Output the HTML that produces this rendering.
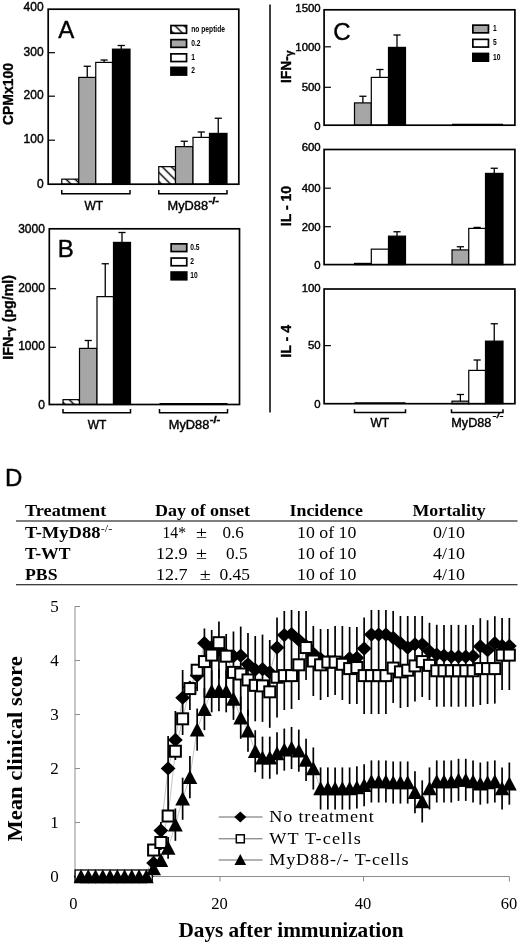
<!DOCTYPE html>
<html lang="en"><head><meta charset="utf-8"><title>Figure</title>
<style>html,body{margin:0;padding:0;background:#fff}svg{display:block}text{fill:#000}</style></head>
<body>
<svg width="520" height="944" viewBox="0 0 520 944">
<defs><pattern id="hatch" patternUnits="userSpaceOnUse" width="6.4" height="6.4" patternTransform="rotate(-45)"><rect width="6.4" height="6.4" fill="#fff"/><line x1="3.2" y1="-1" x2="3.2" y2="7.4" stroke="#000" stroke-width="1.45"/></pattern></defs>
<rect width="520" height="944" fill="#fff"/>
<g id="panelA">
<rect x="61.75" y="179.15" width="17" height="5.05" fill="url(#hatch)" stroke="#000" stroke-width="1.2"/>
<rect x="78.75" y="77.4" width="17" height="106.8" fill="#a6a6a6" stroke="#000" stroke-width="1.2"/>
<line x1="87.25" y1="77.4" x2="87.25" y2="66.25" stroke="#000" stroke-width="1.3" />
<line x1="83.65" y1="66.25" x2="90.85" y2="66.25" stroke="#000" stroke-width="1.3" />
<rect x="95.75" y="62.4" width="16.75" height="121.8" fill="#fff" stroke="#000" stroke-width="1.2"/>
<line x1="104.12" y1="62.4" x2="104.12" y2="60" stroke="#000" stroke-width="1.3" />
<line x1="100.53" y1="60" x2="107.72" y2="60" stroke="#000" stroke-width="1.3" />
<rect x="112.5" y="49.15" width="17.5" height="135.05" fill="#000" stroke="#000" stroke-width="1.2"/>
<line x1="121.25" y1="49.15" x2="121.25" y2="45.5" stroke="#000" stroke-width="1.3" />
<line x1="117.65" y1="45.5" x2="124.85" y2="45.5" stroke="#000" stroke-width="1.3" />
<rect x="158.75" y="166.65" width="16.75" height="17.55" fill="url(#hatch)" stroke="#000" stroke-width="1.2"/>
<rect x="175.5" y="146.65" width="17.5" height="37.55" fill="#a6a6a6" stroke="#000" stroke-width="1.2"/>
<line x1="184.25" y1="146.65" x2="184.25" y2="141.25" stroke="#000" stroke-width="1.3" />
<line x1="180.65" y1="141.25" x2="187.85" y2="141.25" stroke="#000" stroke-width="1.3" />
<rect x="193" y="137.4" width="16.5" height="46.8" fill="#fff" stroke="#000" stroke-width="1.2"/>
<line x1="201.25" y1="137.4" x2="201.25" y2="132" stroke="#000" stroke-width="1.3" />
<line x1="197.65" y1="132" x2="204.85" y2="132" stroke="#000" stroke-width="1.3" />
<rect x="209.5" y="133.4" width="17.5" height="50.8" fill="#000" stroke="#000" stroke-width="1.2"/>
<line x1="218.25" y1="133.4" x2="218.25" y2="118.25" stroke="#000" stroke-width="1.3" />
<line x1="214.65" y1="118.25" x2="221.85" y2="118.25" stroke="#000" stroke-width="1.3" />
<rect x="48.2" y="9.2" width="190.6" height="175" fill="none" stroke="#000" stroke-width="1.7"/>
<text x="43.6" y="11.2" font-family='"Liberation Sans", Arial, Helvetica, sans-serif' font-size="12" font-weight="normal" text-anchor="end"  stroke="#000" stroke-width="0.4">400</text>
<line x1="48.2" y1="52.7" x2="55" y2="52.7" stroke="#000" stroke-width="1.2" />
<text x="43.6" y="55.9" font-family='"Liberation Sans", Arial, Helvetica, sans-serif' font-size="12" font-weight="normal" text-anchor="end"  stroke="#000" stroke-width="0.4">300</text>
<line x1="48.2" y1="96.2" x2="55" y2="96.2" stroke="#000" stroke-width="1.2" />
<text x="43.6" y="99.3" font-family='"Liberation Sans", Arial, Helvetica, sans-serif' font-size="12" font-weight="normal" text-anchor="end"  stroke="#000" stroke-width="0.4">200</text>
<line x1="48.2" y1="140.2" x2="55" y2="140.2" stroke="#000" stroke-width="1.2" />
<text x="43.6" y="143.1" font-family='"Liberation Sans", Arial, Helvetica, sans-serif' font-size="12" font-weight="normal" text-anchor="end"  stroke="#000" stroke-width="0.4">100</text>
<text x="43.6" y="187.5" font-family='"Liberation Sans", Arial, Helvetica, sans-serif' font-size="12" font-weight="normal" text-anchor="end"  stroke="#000" stroke-width="0.4">0</text>
<polyline points="61.75,189.95 61.75,193.75 130,193.75 130,189.95" fill="none" stroke="#000" stroke-width="1.5"/>
<polyline points="158.75,189.95 158.75,193.75 227,193.75 227,189.95" fill="none" stroke="#000" stroke-width="1.5"/>
<text x="93.75" y="210" font-family='"Liberation Sans", Arial, Helvetica, sans-serif' font-size="12" font-weight="normal" text-anchor="middle"  stroke="#000" stroke-width="0.4">WT</text>
<text x="167.5" y="209.7" font-family='"Liberation Sans", Arial, Helvetica, sans-serif' font-size="12" font-weight="normal" text-anchor="start" textLength="40.5" lengthAdjust="spacingAndGlyphs"  stroke="#000" stroke-width="0.4">MyD88</text>
<text x="208.5" y="203.8" font-family='"Liberation Sans", Arial, Helvetica, sans-serif' font-size="8.5" font-weight="bold" text-anchor="start" textLength="10.5" lengthAdjust="spacingAndGlyphs"  stroke="#000" stroke-width="0.4">-/-</text>
<text x="58.3" y="38.2" font-family='"Liberation Sans", Arial, Helvetica, sans-serif' font-size="24" font-weight="normal" text-anchor="start"  stroke="#000" stroke-width="0.4">A</text>
<text transform="translate(12.8 125) rotate(-90)" font-family='"Liberation Sans", Arial, Helvetica, sans-serif' font-size="14" font-weight="bold" stroke="#000" stroke-width="0.35" textLength="62" lengthAdjust="spacingAndGlyphs">CPMx100</text>
<rect x="170.95" y="25.55" width="15.6" height="7.7" fill="url(#hatch)" stroke="#000" stroke-width="1.7"/>
<text x="0" y="0" font-family='"Liberation Sans", Arial, Helvetica, sans-serif' font-size="9.4" font-weight="bold" text-anchor="start" stroke="none" transform="translate(191.3 31.6) scale(0.71 1)">no peptide</text>
<rect x="170.95" y="39.65" width="15.6" height="7.7" fill="#a6a6a6" stroke="#000" stroke-width="1.7"/>
<text x="0" y="0" font-family='"Liberation Sans", Arial, Helvetica, sans-serif' font-size="9.4" font-weight="bold" text-anchor="start" stroke="none" transform="translate(191.3 45.7) scale(0.71 1)">0.2</text>
<rect x="170.95" y="53.85" width="15.6" height="7.7" fill="#fff" stroke="#000" stroke-width="1.7"/>
<text x="0" y="0" font-family='"Liberation Sans", Arial, Helvetica, sans-serif' font-size="9.4" font-weight="bold" text-anchor="start" stroke="none" transform="translate(191.3 59.9) scale(0.71 1)">1</text>
<rect x="170.95" y="67.35" width="15.6" height="7.7" fill="#000" stroke="#000" stroke-width="1.7"/>
<text x="0" y="0" font-family='"Liberation Sans", Arial, Helvetica, sans-serif' font-size="9.4" font-weight="bold" text-anchor="start" stroke="none" transform="translate(191.3 73.4) scale(0.71 1)">2</text>
</g>
<g id="panelB">
<rect x="63" y="399.65" width="16.5" height="4.85" fill="url(#hatch)" stroke="#000" stroke-width="1.2"/>
<rect x="79.5" y="348.4" width="17.5" height="56.1" fill="#a6a6a6" stroke="#000" stroke-width="1.2"/>
<line x1="88.25" y1="348.4" x2="88.25" y2="340.5" stroke="#000" stroke-width="1.3" />
<line x1="84.65" y1="340.5" x2="91.85" y2="340.5" stroke="#000" stroke-width="1.3" />
<rect x="97" y="296.65" width="16.5" height="107.85" fill="#fff" stroke="#000" stroke-width="1.2"/>
<line x1="105.25" y1="296.65" x2="105.25" y2="263.75" stroke="#000" stroke-width="1.3" />
<line x1="101.65" y1="263.75" x2="108.85" y2="263.75" stroke="#000" stroke-width="1.3" />
<rect x="113.5" y="242.4" width="17" height="162.1" fill="#000" stroke="#000" stroke-width="1.2"/>
<line x1="122" y1="242.4" x2="122" y2="232.5" stroke="#000" stroke-width="1.3" />
<line x1="118.4" y1="232.5" x2="125.6" y2="232.5" stroke="#000" stroke-width="1.3" />
<line x1="159.5" y1="403.8" x2="227.5" y2="403.8" stroke="#000" stroke-width="1.6" />
<rect x="49.3" y="228.8" width="190.2" height="175.7" fill="none" stroke="#000" stroke-width="1.7"/>
<text x="44.9" y="232.9" font-family='"Liberation Sans", Arial, Helvetica, sans-serif' font-size="12" font-weight="normal" text-anchor="end"  stroke="#000" stroke-width="0.4">3000</text>
<line x1="49.3" y1="288.7" x2="56.1" y2="288.7" stroke="#000" stroke-width="1.2" />
<text x="44.9" y="292.2" font-family='"Liberation Sans", Arial, Helvetica, sans-serif' font-size="12" font-weight="normal" text-anchor="end"  stroke="#000" stroke-width="0.4">2000</text>
<line x1="49.3" y1="347.3" x2="56.1" y2="347.3" stroke="#000" stroke-width="1.2" />
<text x="44.9" y="350.3" font-family='"Liberation Sans", Arial, Helvetica, sans-serif' font-size="12" font-weight="normal" text-anchor="end"  stroke="#000" stroke-width="0.4">1000</text>
<text x="44.9" y="408.6" font-family='"Liberation Sans", Arial, Helvetica, sans-serif' font-size="12" font-weight="normal" text-anchor="end"  stroke="#000" stroke-width="0.4">0</text>
<polyline points="63,408.9 63,412.7 130.5,412.7 130.5,408.9" fill="none" stroke="#000" stroke-width="1.5"/>
<polyline points="159.5,408.9 159.5,412.7 227.5,412.7 227.5,408.9" fill="none" stroke="#000" stroke-width="1.5"/>
<text x="97" y="428.8" font-family='"Liberation Sans", Arial, Helvetica, sans-serif' font-size="12" font-weight="normal" text-anchor="middle"  stroke="#000" stroke-width="0.4">WT</text>
<text x="168.75" y="428.8" font-family='"Liberation Sans", Arial, Helvetica, sans-serif' font-size="12" font-weight="normal" text-anchor="start" textLength="40.5" lengthAdjust="spacingAndGlyphs"  stroke="#000" stroke-width="0.4">MyD88</text>
<text x="209.75" y="422.9" font-family='"Liberation Sans", Arial, Helvetica, sans-serif' font-size="8.5" font-weight="bold" text-anchor="start" textLength="10.5" lengthAdjust="spacingAndGlyphs"  stroke="#000" stroke-width="0.4">-/-</text>
<text x="57.8" y="257" font-family='"Liberation Sans", Arial, Helvetica, sans-serif' font-size="24" font-weight="normal" text-anchor="start"  stroke="#000" stroke-width="0.4">B</text>
<text transform="translate(12.5 359.7) rotate(-90)" font-family='"Liberation Sans", Arial, Helvetica, sans-serif' font-size="14" font-weight="bold" stroke="#000" stroke-width="0.35" textLength="84.7" lengthAdjust="spacingAndGlyphs">IFN-<tspan font-size="10.5" dy="1.5">γ</tspan><tspan dy="-1.5"> (pg/ml)</tspan></text>
<rect x="171.15" y="243.85" width="15.6" height="7.7" fill="#a6a6a6" stroke="#000" stroke-width="1.7"/>
<text x="0" y="0" font-family='"Liberation Sans", Arial, Helvetica, sans-serif' font-size="9.4" font-weight="bold" text-anchor="start" stroke="none" transform="translate(190.3 249.9) scale(0.71 1)">0.5</text>
<rect x="171.15" y="258.05" width="15.6" height="7.7" fill="#fff" stroke="#000" stroke-width="1.7"/>
<text x="0" y="0" font-family='"Liberation Sans", Arial, Helvetica, sans-serif' font-size="9.4" font-weight="bold" text-anchor="start" stroke="none" transform="translate(190.3 264.1) scale(0.71 1)">2</text>
<rect x="171.15" y="272.05" width="15.6" height="7.7" fill="#000" stroke="#000" stroke-width="1.7"/>
<text x="0" y="0" font-family='"Liberation Sans", Arial, Helvetica, sans-serif' font-size="9.4" font-weight="bold" text-anchor="start" stroke="none" transform="translate(190.3 278.1) scale(0.71 1)">10</text>
</g>
<g id="panelC">
<line x1="270" y1="4.5" x2="270" y2="412.5" stroke="#000" stroke-width="1.5" />
<rect x="354.5" y="102.9" width="16.8" height="22.3" fill="#a6a6a6" stroke="#000" stroke-width="1.2"/>
<line x1="362.9" y1="102.9" x2="362.9" y2="96.25" stroke="#000" stroke-width="1.3" />
<line x1="359.3" y1="96.25" x2="366.5" y2="96.25" stroke="#000" stroke-width="1.3" />
<rect x="371.3" y="77.4" width="17.2" height="47.8" fill="#fff" stroke="#000" stroke-width="1.2"/>
<line x1="379.9" y1="77.4" x2="379.9" y2="69.5" stroke="#000" stroke-width="1.3" />
<line x1="376.3" y1="69.5" x2="383.5" y2="69.5" stroke="#000" stroke-width="1.3" />
<rect x="388.5" y="47.4" width="17" height="77.8" fill="#000" stroke="#000" stroke-width="1.2"/>
<line x1="397" y1="47.4" x2="397" y2="35" stroke="#000" stroke-width="1.3" />
<line x1="393.4" y1="35" x2="400.6" y2="35" stroke="#000" stroke-width="1.3" />
<line x1="452" y1="124.6" x2="503" y2="124.6" stroke="#000" stroke-width="1.5" />
<rect x="324.1" y="9.8" width="190.8" height="115.4" fill="none" stroke="#000" stroke-width="1.7"/>
<text x="320.7" y="12" font-family='"Liberation Sans", Arial, Helvetica, sans-serif' font-size="11.4" font-weight="normal" text-anchor="end"  stroke="#000" stroke-width="0.4">1500</text>
<line x1="324.1" y1="46.8" x2="330.9" y2="46.8" stroke="#000" stroke-width="1.2" />
<text x="320.7" y="50.6" font-family='"Liberation Sans", Arial, Helvetica, sans-serif' font-size="11.4" font-weight="normal" text-anchor="end"  stroke="#000" stroke-width="0.4">1000</text>
<line x1="324.1" y1="87.3" x2="330.9" y2="87.3" stroke="#000" stroke-width="1.2" />
<text x="320.7" y="91.4" font-family='"Liberation Sans", Arial, Helvetica, sans-serif' font-size="11.4" font-weight="normal" text-anchor="end"  stroke="#000" stroke-width="0.4">500</text>
<text x="320.7" y="129.7" font-family='"Liberation Sans", Arial, Helvetica, sans-serif' font-size="11.4" font-weight="normal" text-anchor="end"  stroke="#000" stroke-width="0.4">0</text>
<text x="333.3" y="39.8" font-family='"Liberation Sans", Arial, Helvetica, sans-serif' font-size="24" font-weight="normal" text-anchor="start"  stroke="#000" stroke-width="0.4">C</text>
<text transform="translate(291.2 83.1) rotate(-90)" font-family='"Liberation Sans", Arial, Helvetica, sans-serif' font-size="14" font-weight="bold" stroke="#000" stroke-width="0.35" textLength="32.7" lengthAdjust="spacingAndGlyphs">IFN-<tspan font-size="10.5" dy="1.5">γ</tspan></text>
<rect x="472.85" y="25.15" width="15.6" height="7.7" fill="#a6a6a6" stroke="#000" stroke-width="1.7"/>
<text x="0" y="0" font-family='"Liberation Sans", Arial, Helvetica, sans-serif' font-size="9.4" font-weight="bold" text-anchor="start" stroke="none" transform="translate(493 31.2) scale(0.71 1)">1</text>
<rect x="472.85" y="39.35" width="15.6" height="7.7" fill="#fff" stroke="#000" stroke-width="1.7"/>
<text x="0" y="0" font-family='"Liberation Sans", Arial, Helvetica, sans-serif' font-size="9.4" font-weight="bold" text-anchor="start" stroke="none" transform="translate(493 45.4) scale(0.71 1)">5</text>
<rect x="472.85" y="53.45" width="15.6" height="7.7" fill="#000" stroke="#000" stroke-width="1.7"/>
<text x="0" y="0" font-family='"Liberation Sans", Arial, Helvetica, sans-serif' font-size="9.4" font-weight="bold" text-anchor="start" stroke="none" transform="translate(493 59.5) scale(0.71 1)">10</text>
<rect x="354.5" y="263.4" width="16.8" height="1.2" fill="#a6a6a6" stroke="#000" stroke-width="1.2"/>
<rect x="371.3" y="249.15" width="17.2" height="15.45" fill="#fff" stroke="#000" stroke-width="1.2"/>
<rect x="388.5" y="236.15" width="17" height="28.45" fill="#000" stroke="#000" stroke-width="1.2"/>
<line x1="397" y1="236.15" x2="397" y2="231.75" stroke="#000" stroke-width="1.3" />
<line x1="393.4" y1="231.75" x2="400.6" y2="231.75" stroke="#000" stroke-width="1.3" />
<rect x="452" y="249.9" width="16.75" height="14.7" fill="#a6a6a6" stroke="#000" stroke-width="1.2"/>
<line x1="460.38" y1="249.9" x2="460.38" y2="246.75" stroke="#000" stroke-width="1.3" />
<line x1="456.77" y1="246.75" x2="463.98" y2="246.75" stroke="#000" stroke-width="1.3" />
<rect x="468.75" y="228.4" width="16.75" height="36.2" fill="#fff" stroke="#000" stroke-width="1.2"/>
<line x1="477.12" y1="228.4" x2="477.12" y2="227.4" stroke="#000" stroke-width="1.3" />
<line x1="473.52" y1="227.4" x2="480.73" y2="227.4" stroke="#000" stroke-width="1.3" />
<rect x="485.5" y="173.4" width="17.5" height="91.2" fill="#000" stroke="#000" stroke-width="1.2"/>
<line x1="494.25" y1="173.4" x2="494.25" y2="168.25" stroke="#000" stroke-width="1.3" />
<line x1="490.65" y1="168.25" x2="497.85" y2="168.25" stroke="#000" stroke-width="1.3" />
<rect x="324.1" y="149.5" width="190.8" height="115.1" fill="none" stroke="#000" stroke-width="1.7"/>
<text x="320.7" y="151.2" font-family='"Liberation Sans", Arial, Helvetica, sans-serif' font-size="11.4" font-weight="normal" text-anchor="end"  stroke="#000" stroke-width="0.4">600</text>
<line x1="324.1" y1="188.2" x2="330.9" y2="188.2" stroke="#000" stroke-width="1.2" />
<text x="320.7" y="191.9" font-family='"Liberation Sans", Arial, Helvetica, sans-serif' font-size="11.4" font-weight="normal" text-anchor="end"  stroke="#000" stroke-width="0.4">400</text>
<line x1="324.1" y1="226.7" x2="330.9" y2="226.7" stroke="#000" stroke-width="1.2" />
<text x="320.7" y="230.8" font-family='"Liberation Sans", Arial, Helvetica, sans-serif' font-size="11.4" font-weight="normal" text-anchor="end"  stroke="#000" stroke-width="0.4">200</text>
<text x="320.7" y="268.7" font-family='"Liberation Sans", Arial, Helvetica, sans-serif' font-size="11.4" font-weight="normal" text-anchor="end"  stroke="#000" stroke-width="0.4">0</text>
<text transform="translate(291.2 226.2) rotate(-90)" font-family='"Liberation Sans", Arial, Helvetica, sans-serif' font-size="14" font-weight="bold" stroke="#000" stroke-width="0.35" textLength="40.4" lengthAdjust="spacingAndGlyphs">IL - 10</text>
<line x1="354.5" y1="403.1" x2="405.5" y2="403.1" stroke="#000" stroke-width="1.5" />
<rect x="452" y="401.15" width="16.75" height="2.55" fill="#a6a6a6" stroke="#000" stroke-width="1.2"/>
<line x1="460.38" y1="401.15" x2="460.38" y2="394.5" stroke="#000" stroke-width="1.3" />
<line x1="456.77" y1="394.5" x2="463.98" y2="394.5" stroke="#000" stroke-width="1.3" />
<rect x="468.75" y="370.4" width="16.75" height="33.3" fill="#fff" stroke="#000" stroke-width="1.2"/>
<line x1="477.12" y1="370.4" x2="477.12" y2="360" stroke="#000" stroke-width="1.3" />
<line x1="473.52" y1="360" x2="480.73" y2="360" stroke="#000" stroke-width="1.3" />
<rect x="485.5" y="341.15" width="17.5" height="62.55" fill="#000" stroke="#000" stroke-width="1.2"/>
<line x1="494.25" y1="341.15" x2="494.25" y2="323.75" stroke="#000" stroke-width="1.3" />
<line x1="490.65" y1="323.75" x2="497.85" y2="323.75" stroke="#000" stroke-width="1.3" />
<rect x="324.1" y="289" width="190.8" height="114.7" fill="none" stroke="#000" stroke-width="1.7"/>
<text x="320.7" y="291.8" font-family='"Liberation Sans", Arial, Helvetica, sans-serif' font-size="11.4" font-weight="normal" text-anchor="end"  stroke="#000" stroke-width="0.4">100</text>
<line x1="324.1" y1="345.6" x2="330.9" y2="345.6" stroke="#000" stroke-width="1.2" />
<text x="320.7" y="349.4" font-family='"Liberation Sans", Arial, Helvetica, sans-serif' font-size="11.4" font-weight="normal" text-anchor="end"  stroke="#000" stroke-width="0.4">50</text>
<text x="320.7" y="407.9" font-family='"Liberation Sans", Arial, Helvetica, sans-serif' font-size="11.4" font-weight="normal" text-anchor="end"  stroke="#000" stroke-width="0.4">0</text>
<text transform="translate(291.3 357.7) rotate(-90)" font-family='"Liberation Sans", Arial, Helvetica, sans-serif' font-size="14" font-weight="bold" stroke="#000" stroke-width="0.35" textLength="32.7" lengthAdjust="spacingAndGlyphs">IL - 4</text>
<polyline points="354.5,409.2 354.5,412.4 405.5,412.4 405.5,409.2" fill="none" stroke="#000" stroke-width="1.5"/>
<polyline points="451.5,409.2 451.5,412.4 503,412.4 503,409.2" fill="none" stroke="#000" stroke-width="1.5"/>
<text x="370.5" y="427" font-family='"Liberation Sans", Arial, Helvetica, sans-serif' font-size="12" font-weight="normal" text-anchor="start"  stroke="#000" stroke-width="0.4">WT</text>
<text x="451.3" y="427" font-family='"Liberation Sans", Arial, Helvetica, sans-serif' font-size="12" font-weight="normal" text-anchor="start" textLength="40" lengthAdjust="spacingAndGlyphs"  stroke="#000" stroke-width="0.4">MyD88</text>
<text x="492.5" y="417.5" font-family='"Liberation Sans", Arial, Helvetica, sans-serif' font-size="8" font-weight="normal" text-anchor="start" textLength="11" lengthAdjust="spacingAndGlyphs"  stroke="#000" stroke-width="0.4">-/-</text>
</g>
<g id="panelD">
<text x="5" y="486.2" font-family='"Liberation Sans", Arial, Helvetica, sans-serif' font-size="24" font-weight="normal" text-anchor="start"  stroke="#000" stroke-width="0.4">D</text>
<text x="25" y="516.3" font-family='"Liberation Serif", "Times New Roman", Times, serif' font-size="16.5" font-weight="bold" text-anchor="start" textLength="81.3" lengthAdjust="spacingAndGlyphs" >Treatment</text>
<text x="155" y="516.3" font-family='"Liberation Serif", "Times New Roman", Times, serif' font-size="16.5" font-weight="bold" text-anchor="start" textLength="95" lengthAdjust="spacingAndGlyphs" >Day of onset</text>
<text x="289.5" y="516.3" font-family='"Liberation Serif", "Times New Roman", Times, serif' font-size="16.5" font-weight="bold" text-anchor="start" textLength="73.5" lengthAdjust="spacingAndGlyphs" >Incidence</text>
<text x="412.5" y="516.3" font-family='"Liberation Serif", "Times New Roman", Times, serif' font-size="16.5" font-weight="bold" text-anchor="start" textLength="73.3" lengthAdjust="spacingAndGlyphs" >Mortality</text>
<line x1="16" y1="521" x2="517.5" y2="521" stroke="#000" stroke-width="1.1" />
<line x1="16" y1="584.7" x2="517.5" y2="584.7" stroke="#000" stroke-width="1.1" />
<text x="25" y="537.8" font-family='"Liberation Serif", "Times New Roman", Times, serif' font-size="16.5" font-weight="bold" text-anchor="start" textLength="75.5" lengthAdjust="spacingAndGlyphs" >T-MyD88</text>
<text x="100.8" y="531.5" font-family='"Liberation Serif", "Times New Roman", Times, serif' font-size="10" font-weight="normal" text-anchor="start" textLength="11.5" lengthAdjust="spacingAndGlyphs" >-/-</text>
<text x="25" y="558.8" font-family='"Liberation Serif", "Times New Roman", Times, serif' font-size="16.5" font-weight="bold" text-anchor="start" textLength="45.5" lengthAdjust="spacingAndGlyphs" >T-WT</text>
<text x="25" y="579.8" font-family='"Liberation Serif", "Times New Roman", Times, serif' font-size="16.5" font-weight="bold" text-anchor="start" textLength="32.5" lengthAdjust="spacingAndGlyphs" >PBS</text>
<text x="162.5" y="537.8" font-family='"Liberation Serif", "Times New Roman", Times, serif' font-size="16.5" font-weight="normal" text-anchor="start" textLength="23.5" lengthAdjust="spacingAndGlyphs" >14*</text>
<text x="196" y="537.8" font-family='"Liberation Serif", "Times New Roman", Times, serif' font-size="16.5" font-weight="normal" text-anchor="start" textLength="11" lengthAdjust="spacingAndGlyphs" >±</text>
<text x="222.5" y="537.8" font-family='"Liberation Serif", "Times New Roman", Times, serif' font-size="16.5" font-weight="normal" text-anchor="start" textLength="21.3" lengthAdjust="spacingAndGlyphs" >0.6</text>
<text x="156" y="558.8" font-family='"Liberation Serif", "Times New Roman", Times, serif' font-size="16.5" font-weight="normal" text-anchor="start" textLength="31.5" lengthAdjust="spacingAndGlyphs" >12.9</text>
<text x="196" y="558.8" font-family='"Liberation Serif", "Times New Roman", Times, serif' font-size="16.5" font-weight="normal" text-anchor="start" textLength="11" lengthAdjust="spacingAndGlyphs" >±</text>
<text x="226" y="558.8" font-family='"Liberation Serif", "Times New Roman", Times, serif' font-size="16.5" font-weight="normal" text-anchor="start" textLength="21.5" lengthAdjust="spacingAndGlyphs" >0.5</text>
<text x="156" y="579.8" font-family='"Liberation Serif", "Times New Roman", Times, serif' font-size="16.5" font-weight="normal" text-anchor="start" textLength="31.5" lengthAdjust="spacingAndGlyphs" >12.7</text>
<text x="199.7" y="579.8" font-family='"Liberation Serif", "Times New Roman", Times, serif' font-size="16.5" font-weight="normal" text-anchor="start" textLength="11" lengthAdjust="spacingAndGlyphs" >±</text>
<text x="219.5" y="579.8" font-family='"Liberation Serif", "Times New Roman", Times, serif' font-size="16.5" font-weight="normal" text-anchor="start" textLength="30.5" lengthAdjust="spacingAndGlyphs" >0.45</text>
<text x="297" y="537.8" font-family='"Liberation Serif", "Times New Roman", Times, serif' font-size="16.5" font-weight="normal" text-anchor="start" textLength="59.3" lengthAdjust="spacingAndGlyphs" >10 of 10</text>
<text x="297" y="558.8" font-family='"Liberation Serif", "Times New Roman", Times, serif' font-size="16.5" font-weight="normal" text-anchor="start" textLength="59.3" lengthAdjust="spacingAndGlyphs" >10 of 10</text>
<text x="297" y="579.8" font-family='"Liberation Serif", "Times New Roman", Times, serif' font-size="16.5" font-weight="normal" text-anchor="start" textLength="59.3" lengthAdjust="spacingAndGlyphs" >10 of 10</text>
<text x="433" y="537.8" font-family='"Liberation Serif", "Times New Roman", Times, serif' font-size="16.5" font-weight="normal" text-anchor="start" textLength="32" lengthAdjust="spacingAndGlyphs" >0/10</text>
<text x="433" y="558.8" font-family='"Liberation Serif", "Times New Roman", Times, serif' font-size="16.5" font-weight="normal" text-anchor="start" textLength="32" lengthAdjust="spacingAndGlyphs" >4/10</text>
<text x="433" y="579.8" font-family='"Liberation Serif", "Times New Roman", Times, serif' font-size="16.5" font-weight="normal" text-anchor="start" textLength="32" lengthAdjust="spacingAndGlyphs" >4/10</text>
<line x1="75" y1="606.5" x2="75" y2="876.5" stroke="#8c8c8c" stroke-width="1" />
<line x1="75" y1="876.5" x2="509.4" y2="876.5" stroke="#8c8c8c" stroke-width="1" />
<line x1="75" y1="876.5" x2="80" y2="876.5" stroke="#8c8c8c" stroke-width="1" />
<text x="58.8" y="881.9" font-family='"Liberation Serif", "Times New Roman", Times, serif' font-size="17" font-weight="normal" text-anchor="end" >0</text>
<line x1="75" y1="822.5" x2="80" y2="822.5" stroke="#8c8c8c" stroke-width="1" />
<text x="58.8" y="827.9" font-family='"Liberation Serif", "Times New Roman", Times, serif' font-size="17" font-weight="normal" text-anchor="end" >1</text>
<line x1="75" y1="768.5" x2="80" y2="768.5" stroke="#8c8c8c" stroke-width="1" />
<text x="58.8" y="773.9" font-family='"Liberation Serif", "Times New Roman", Times, serif' font-size="17" font-weight="normal" text-anchor="end" >2</text>
<line x1="75" y1="714.5" x2="80" y2="714.5" stroke="#8c8c8c" stroke-width="1" />
<text x="58.8" y="719.9" font-family='"Liberation Serif", "Times New Roman", Times, serif' font-size="17" font-weight="normal" text-anchor="end" >3</text>
<line x1="75" y1="660.5" x2="80" y2="660.5" stroke="#8c8c8c" stroke-width="1" />
<text x="58.8" y="665.9" font-family='"Liberation Serif", "Times New Roman", Times, serif' font-size="17" font-weight="normal" text-anchor="end" >4</text>
<line x1="75" y1="606.5" x2="80" y2="606.5" stroke="#8c8c8c" stroke-width="1" />
<text x="58.8" y="611.9" font-family='"Liberation Serif", "Times New Roman", Times, serif' font-size="17" font-weight="normal" text-anchor="end" >5</text>
<line x1="75" y1="876.5" x2="75" y2="881.5" stroke="#8c8c8c" stroke-width="1" />
<text x="73.3" y="908.7" font-family='"Liberation Serif", "Times New Roman", Times, serif' font-size="16.5" font-weight="normal" text-anchor="middle" >0</text>
<line x1="220" y1="876.5" x2="220" y2="881.5" stroke="#8c8c8c" stroke-width="1" />
<text x="219.5" y="908.7" font-family='"Liberation Serif", "Times New Roman", Times, serif' font-size="16.5" font-weight="normal" text-anchor="middle" >20</text>
<line x1="363.5" y1="876.5" x2="363.5" y2="881.5" stroke="#8c8c8c" stroke-width="1" />
<text x="363" y="908.7" font-family='"Liberation Serif", "Times New Roman", Times, serif' font-size="16.5" font-weight="normal" text-anchor="middle" >40</text>
<line x1="509.4" y1="876.5" x2="509.4" y2="881.5" stroke="#8c8c8c" stroke-width="1" />
<text x="508.9" y="908.7" font-family='"Liberation Serif", "Times New Roman", Times, serif' font-size="16.5" font-weight="normal" text-anchor="middle" >60</text>
<text x="178.4" y="937" font-family='"Liberation Serif", "Times New Roman", Times, serif' font-size="21.5" font-weight="bold" text-anchor="start" textLength="225.3" lengthAdjust="spacingAndGlyphs" >Days after immunization</text>
<text transform="translate(22 841.6) rotate(-90)" font-family='"Liberation Serif", "Times New Roman", Times, serif' font-size="22" font-weight="bold" stroke="#000" stroke-width="0" textLength="185.3" lengthAdjust="spacingAndGlyphs">Mean clinical score</text>
<polyline points="81,876.5 88.26,876.5 95.52,876.5 102.78,876.5 110.04,876.5 117.3,876.5 124.56,876.5 131.82,876.5 139.08,876.5 146.34,876.5 153.6,863 160.86,830.6 168.12,768.5 175.38,739.88 182.64,697.76 189.9,687.5 197.16,675.62 204.42,643.22 211.68,647 218.94,649.7 226.2,655.1 233.46,656.18 240.72,655.64 247.98,664.28 255.24,669.68 262.5,669.14 269.76,672.38 277.02,647.54 284.28,635.12 291.54,634.04 298.8,639.98 306.06,645.92 313.32,653.48 320.58,658.88 327.84,661.58 335.1,661.58 342.36,662.66 349.62,658.34 356.88,657.8 364.14,648.62 371.4,634.58 378.66,634.58 385.92,634.58 393.18,637.82 400.44,643.22 407.7,647.54 414.96,644.3 422.22,644.3 429.48,651.32 436.74,654.56 444,655.64 451.26,656.72 458.52,656.72 465.78,656.72 473.04,656.18 480.3,646.46 487.56,650.24 494.82,643.22 502.08,645.92 509.34,645.92" fill="none" stroke="#9a9a9a" stroke-width="0.6"/>
<polyline points="81,876.5 88.26,876.5 95.52,876.5 102.78,876.5 110.04,876.5 117.3,876.5 124.56,876.5 131.82,876.5 139.08,876.5 146.34,876.5 153.6,850.04 160.86,842.48 168.12,816.02 175.38,751.22 182.64,718.82 189.9,688.58 197.16,670.22 204.42,661.58 211.68,655.1 218.94,642.68 226.2,656.18 233.46,672.38 240.72,674 247.98,679.94 255.24,685.34 262.5,685.88 269.76,691.82 277.02,677.24 284.28,675.62 291.54,675.62 298.8,664.82 306.06,647.54 313.32,661.04 320.58,664.82 327.84,662.12 335.1,662.12 342.36,664.28 349.62,668.6 356.88,667.52 364.14,675.62 371.4,675.62 378.66,675.62 385.92,675.62 393.18,668.06 400.44,671.84 407.7,670.22 414.96,665.9 422.22,661.58 429.48,665.36 436.74,670.76 444,670.76 451.26,670.76 458.52,670.76 465.78,670.76 473.04,670.76 480.3,668.6 487.56,668.6 494.82,668.6 502.08,655.1 509.34,655.1" fill="none" stroke="#9a9a9a" stroke-width="0.6"/>
<polyline points="81,876.5 88.26,876.5 95.52,876.5 102.78,876.5 110.04,876.5 117.3,876.5 124.56,876.5 131.82,876.5 139.08,876.5 146.34,876.5 153.6,868.4 160.86,860.3 168.12,847.88 175.38,824.66 182.64,798.74 189.9,777.14 197.16,729.62 204.42,709.1 211.68,691.28 218.94,690.2 226.2,691.28 233.46,698.84 240.72,717.74 247.98,730.7 255.24,751.22 262.5,757.7 269.76,757.7 277.02,753.38 284.28,749.6 291.54,747.98 298.8,750.68 306.06,759.86 313.32,768.5 320.58,788.48 327.84,788.48 335.1,788.48 342.36,788.48 349.62,788.48 356.88,787.4 364.14,785.24 371.4,781.46 378.66,781.46 385.92,781.46 393.18,782.54 400.44,782.54 407.7,782.54 414.96,792.26 422.22,801.44 429.48,788.48 436.74,781.46 444,781.46 451.26,781.46 458.52,779.84 465.78,779.84 473.04,781.46 480.3,783.62 487.56,782.54 494.82,781.46 502.08,788.48 509.34,783.62" fill="none" stroke="#9a9a9a" stroke-width="0.6"/>
<line x1="153.6" y1="845" x2="153.6" y2="870" stroke="#000" stroke-width="1.7" />
<line x1="153.6" y1="865.7" x2="153.6" y2="871.1" stroke="#000" stroke-width="1.7" />
<line x1="160.86" y1="822" x2="160.86" y2="850" stroke="#000" stroke-width="1.7" />
<line x1="160.86" y1="854.9" x2="160.86" y2="865.7" stroke="#000" stroke-width="1.7" />
<line x1="168.12" y1="736" x2="168.12" y2="822" stroke="#000" stroke-width="1.7" />
<line x1="168.12" y1="837.08" x2="168.12" y2="858.68" stroke="#000" stroke-width="1.7" />
<line x1="175.38" y1="711" x2="175.38" y2="760" stroke="#000" stroke-width="1.7" />
<line x1="175.38" y1="808.46" x2="175.38" y2="840.86" stroke="#000" stroke-width="1.7" />
<line x1="182.64" y1="670" x2="182.64" y2="735" stroke="#000" stroke-width="1.7" />
<line x1="182.64" y1="777.68" x2="182.64" y2="819.8" stroke="#000" stroke-width="1.7" />
<line x1="189.9" y1="684" x2="189.9" y2="710" stroke="#000" stroke-width="1.7" />
<line x1="189.9" y1="756.08" x2="189.9" y2="798.2" stroke="#000" stroke-width="1.7" />
<line x1="197.16" y1="666" x2="197.16" y2="691" stroke="#000" stroke-width="1.7" />
<line x1="197.16" y1="708.56" x2="197.16" y2="750.68" stroke="#000" stroke-width="1.7" />
<line x1="204.42" y1="628.5" x2="204.42" y2="697.58" stroke="#000" stroke-width="1.7" />
<line x1="204.42" y1="688.04" x2="204.42" y2="730.16" stroke="#000" stroke-width="1.7" />
<line x1="211.68" y1="630" x2="211.68" y2="691.1" stroke="#000" stroke-width="1.7" />
<line x1="211.68" y1="670.22" x2="211.68" y2="712.34" stroke="#000" stroke-width="1.7" />
<line x1="218.94" y1="621.5" x2="218.94" y2="678.68" stroke="#000" stroke-width="1.7" />
<line x1="218.94" y1="669.14" x2="218.94" y2="711.26" stroke="#000" stroke-width="1.7" />
<line x1="226.2" y1="634" x2="226.2" y2="692.18" stroke="#000" stroke-width="1.7" />
<line x1="226.2" y1="670.22" x2="226.2" y2="712.34" stroke="#000" stroke-width="1.7" />
<line x1="233.46" y1="631.5" x2="233.46" y2="708.38" stroke="#000" stroke-width="1.7" />
<line x1="233.46" y1="677.78" x2="233.46" y2="719.9" stroke="#000" stroke-width="1.7" />
<line x1="240.72" y1="626.6" x2="240.72" y2="710" stroke="#000" stroke-width="1.7" />
<line x1="240.72" y1="696.68" x2="240.72" y2="738.8" stroke="#000" stroke-width="1.7" />
<line x1="247.98" y1="633" x2="247.98" y2="715.94" stroke="#000" stroke-width="1.7" />
<line x1="247.98" y1="709.64" x2="247.98" y2="751.76" stroke="#000" stroke-width="1.7" />
<line x1="255.24" y1="636" x2="255.24" y2="721.34" stroke="#000" stroke-width="1.7" />
<line x1="255.24" y1="730.16" x2="255.24" y2="772.28" stroke="#000" stroke-width="1.7" />
<line x1="262.5" y1="634.6" x2="262.5" y2="721.88" stroke="#000" stroke-width="1.7" />
<line x1="262.5" y1="736.64" x2="262.5" y2="778.76" stroke="#000" stroke-width="1.7" />
<line x1="269.76" y1="640" x2="269.76" y2="727.82" stroke="#000" stroke-width="1.7" />
<line x1="269.76" y1="736.64" x2="269.76" y2="778.76" stroke="#000" stroke-width="1.7" />
<line x1="277.02" y1="617.5" x2="277.02" y2="717.5" stroke="#000" stroke-width="1.7" />
<line x1="277.02" y1="732.32" x2="277.02" y2="774.44" stroke="#000" stroke-width="1.7" />
<line x1="284.28" y1="611" x2="284.28" y2="710" stroke="#000" stroke-width="1.7" />
<line x1="284.28" y1="728.54" x2="284.28" y2="770.66" stroke="#000" stroke-width="1.7" />
<line x1="291.54" y1="610" x2="291.54" y2="709" stroke="#000" stroke-width="1.7" />
<line x1="291.54" y1="726.92" x2="291.54" y2="769.04" stroke="#000" stroke-width="1.7" />
<line x1="298.8" y1="611" x2="298.8" y2="700" stroke="#000" stroke-width="1.7" />
<line x1="298.8" y1="729.62" x2="298.8" y2="771.74" stroke="#000" stroke-width="1.7" />
<line x1="306.06" y1="611" x2="306.06" y2="680" stroke="#000" stroke-width="1.7" />
<line x1="306.06" y1="738.8" x2="306.06" y2="780.92" stroke="#000" stroke-width="1.7" />
<line x1="313.32" y1="626" x2="313.32" y2="696" stroke="#000" stroke-width="1.7" />
<line x1="313.32" y1="747.44" x2="313.32" y2="789.56" stroke="#000" stroke-width="1.7" />
<line x1="320.58" y1="629" x2="320.58" y2="700" stroke="#000" stroke-width="1.7" />
<line x1="320.58" y1="767.42" x2="320.58" y2="809.54" stroke="#000" stroke-width="1.7" />
<line x1="327.84" y1="629" x2="327.84" y2="697" stroke="#000" stroke-width="1.7" />
<line x1="327.84" y1="767.42" x2="327.84" y2="809.54" stroke="#000" stroke-width="1.7" />
<line x1="335.1" y1="626" x2="335.1" y2="695" stroke="#000" stroke-width="1.7" />
<line x1="335.1" y1="767.42" x2="335.1" y2="809.54" stroke="#000" stroke-width="1.7" />
<line x1="342.36" y1="626" x2="342.36" y2="700" stroke="#000" stroke-width="1.7" />
<line x1="342.36" y1="767.42" x2="342.36" y2="809.54" stroke="#000" stroke-width="1.7" />
<line x1="349.62" y1="627" x2="349.62" y2="704" stroke="#000" stroke-width="1.7" />
<line x1="349.62" y1="767.42" x2="349.62" y2="809.54" stroke="#000" stroke-width="1.7" />
<line x1="356.88" y1="627" x2="356.88" y2="704" stroke="#000" stroke-width="1.7" />
<line x1="356.88" y1="766.34" x2="356.88" y2="808.46" stroke="#000" stroke-width="1.7" />
<line x1="364.14" y1="617.5" x2="364.14" y2="714" stroke="#000" stroke-width="1.7" />
<line x1="364.14" y1="764.18" x2="364.14" y2="806.3" stroke="#000" stroke-width="1.7" />
<line x1="371.4" y1="610" x2="371.4" y2="714" stroke="#000" stroke-width="1.7" />
<line x1="371.4" y1="760.4" x2="371.4" y2="802.52" stroke="#000" stroke-width="1.7" />
<line x1="378.66" y1="610" x2="378.66" y2="714" stroke="#000" stroke-width="1.7" />
<line x1="378.66" y1="760.4" x2="378.66" y2="802.52" stroke="#000" stroke-width="1.7" />
<line x1="385.92" y1="610" x2="385.92" y2="714" stroke="#000" stroke-width="1.7" />
<line x1="385.92" y1="760.4" x2="385.92" y2="802.52" stroke="#000" stroke-width="1.7" />
<line x1="393.18" y1="611" x2="393.18" y2="703" stroke="#000" stroke-width="1.7" />
<line x1="393.18" y1="761.48" x2="393.18" y2="803.6" stroke="#000" stroke-width="1.7" />
<line x1="400.44" y1="616" x2="400.44" y2="708" stroke="#000" stroke-width="1.7" />
<line x1="400.44" y1="761.48" x2="400.44" y2="803.6" stroke="#000" stroke-width="1.7" />
<line x1="407.7" y1="616" x2="407.7" y2="707" stroke="#000" stroke-width="1.7" />
<line x1="407.7" y1="761.48" x2="407.7" y2="803.6" stroke="#000" stroke-width="1.7" />
<line x1="414.96" y1="616" x2="414.96" y2="701.5" stroke="#000" stroke-width="1.7" />
<line x1="414.96" y1="771.2" x2="414.96" y2="813.32" stroke="#000" stroke-width="1.7" />
<line x1="422.22" y1="616" x2="422.22" y2="697" stroke="#000" stroke-width="1.7" />
<line x1="422.22" y1="780.38" x2="422.22" y2="822.5" stroke="#000" stroke-width="1.7" />
<line x1="429.48" y1="622.8" x2="429.48" y2="700" stroke="#000" stroke-width="1.7" />
<line x1="429.48" y1="767.42" x2="429.48" y2="809.54" stroke="#000" stroke-width="1.7" />
<line x1="436.74" y1="624.8" x2="436.74" y2="706.76" stroke="#000" stroke-width="1.7" />
<line x1="436.74" y1="760.4" x2="436.74" y2="802.52" stroke="#000" stroke-width="1.7" />
<line x1="444" y1="624.9" x2="444" y2="706.76" stroke="#000" stroke-width="1.7" />
<line x1="444" y1="760.4" x2="444" y2="802.52" stroke="#000" stroke-width="1.7" />
<line x1="451.26" y1="624.9" x2="451.26" y2="706.76" stroke="#000" stroke-width="1.7" />
<line x1="451.26" y1="760.4" x2="451.26" y2="802.52" stroke="#000" stroke-width="1.7" />
<line x1="458.52" y1="624.9" x2="458.52" y2="706.76" stroke="#000" stroke-width="1.7" />
<line x1="458.52" y1="758.78" x2="458.52" y2="800.9" stroke="#000" stroke-width="1.7" />
<line x1="465.78" y1="624.9" x2="465.78" y2="706.76" stroke="#000" stroke-width="1.7" />
<line x1="465.78" y1="758.78" x2="465.78" y2="800.9" stroke="#000" stroke-width="1.7" />
<line x1="473.04" y1="624.9" x2="473.04" y2="706.76" stroke="#000" stroke-width="1.7" />
<line x1="473.04" y1="760.4" x2="473.04" y2="802.52" stroke="#000" stroke-width="1.7" />
<line x1="480.3" y1="618.2" x2="480.3" y2="705" stroke="#000" stroke-width="1.7" />
<line x1="480.3" y1="762.56" x2="480.3" y2="804.68" stroke="#000" stroke-width="1.7" />
<line x1="487.56" y1="620.2" x2="487.56" y2="704" stroke="#000" stroke-width="1.7" />
<line x1="487.56" y1="761.48" x2="487.56" y2="803.6" stroke="#000" stroke-width="1.7" />
<line x1="494.82" y1="616.2" x2="494.82" y2="703.6" stroke="#000" stroke-width="1.7" />
<line x1="494.82" y1="760.4" x2="494.82" y2="802.52" stroke="#000" stroke-width="1.7" />
<line x1="502.08" y1="618" x2="502.08" y2="690" stroke="#000" stroke-width="1.7" />
<line x1="502.08" y1="767.42" x2="502.08" y2="809.54" stroke="#000" stroke-width="1.7" />
<line x1="509.34" y1="618" x2="509.34" y2="690" stroke="#000" stroke-width="1.7" />
<line x1="509.34" y1="762.56" x2="509.34" y2="804.68" stroke="#000" stroke-width="1.7" />
<polygon points="73.6,876.5 81,869.4 88.4,876.5 81,883.6" fill="#000"/>
<polygon points="80.86,876.5 88.26,869.4 95.66,876.5 88.26,883.6" fill="#000"/>
<polygon points="88.12,876.5 95.52,869.4 102.92,876.5 95.52,883.6" fill="#000"/>
<polygon points="95.38,876.5 102.78,869.4 110.18,876.5 102.78,883.6" fill="#000"/>
<polygon points="102.64,876.5 110.04,869.4 117.44,876.5 110.04,883.6" fill="#000"/>
<polygon points="109.9,876.5 117.3,869.4 124.7,876.5 117.3,883.6" fill="#000"/>
<polygon points="117.16,876.5 124.56,869.4 131.96,876.5 124.56,883.6" fill="#000"/>
<polygon points="124.42,876.5 131.82,869.4 139.22,876.5 131.82,883.6" fill="#000"/>
<polygon points="131.68,876.5 139.08,869.4 146.48,876.5 139.08,883.6" fill="#000"/>
<polygon points="138.94,876.5 146.34,869.4 153.74,876.5 146.34,883.6" fill="#000"/>
<polygon points="146.2,863 153.6,855.9 161,863 153.6,870.1" fill="#000"/>
<polygon points="153.46,830.6 160.86,823.5 168.26,830.6 160.86,837.7" fill="#000"/>
<polygon points="160.72,768.5 168.12,761.4 175.52,768.5 168.12,775.6" fill="#000"/>
<polygon points="167.98,739.88 175.38,732.78 182.78,739.88 175.38,746.98" fill="#000"/>
<polygon points="175.24,697.76 182.64,690.66 190.04,697.76 182.64,704.86" fill="#000"/>
<polygon points="182.5,687.5 189.9,680.4 197.3,687.5 189.9,694.6" fill="#000"/>
<polygon points="189.76,675.62 197.16,668.52 204.56,675.62 197.16,682.72" fill="#000"/>
<polygon points="197.02,643.22 204.42,636.12 211.82,643.22 204.42,650.32" fill="#000"/>
<polygon points="204.28,647 211.68,639.9 219.08,647 211.68,654.1" fill="#000"/>
<polygon points="211.54,649.7 218.94,642.6 226.34,649.7 218.94,656.8" fill="#000"/>
<polygon points="218.8,655.1 226.2,648 233.6,655.1 226.2,662.2" fill="#000"/>
<polygon points="226.06,656.18 233.46,649.08 240.86,656.18 233.46,663.28" fill="#000"/>
<polygon points="233.32,655.64 240.72,648.54 248.12,655.64 240.72,662.74" fill="#000"/>
<polygon points="240.58,664.28 247.98,657.18 255.38,664.28 247.98,671.38" fill="#000"/>
<polygon points="247.84,669.68 255.24,662.58 262.64,669.68 255.24,676.78" fill="#000"/>
<polygon points="255.1,669.14 262.5,662.04 269.9,669.14 262.5,676.24" fill="#000"/>
<polygon points="262.36,672.38 269.76,665.28 277.16,672.38 269.76,679.48" fill="#000"/>
<polygon points="269.62,647.54 277.02,640.44 284.42,647.54 277.02,654.64" fill="#000"/>
<polygon points="276.88,635.12 284.28,628.02 291.68,635.12 284.28,642.22" fill="#000"/>
<polygon points="284.14,634.04 291.54,626.94 298.94,634.04 291.54,641.14" fill="#000"/>
<polygon points="291.4,639.98 298.8,632.88 306.2,639.98 298.8,647.08" fill="#000"/>
<polygon points="298.66,645.92 306.06,638.82 313.46,645.92 306.06,653.02" fill="#000"/>
<polygon points="305.92,653.48 313.32,646.38 320.72,653.48 313.32,660.58" fill="#000"/>
<polygon points="313.18,658.88 320.58,651.78 327.98,658.88 320.58,665.98" fill="#000"/>
<polygon points="320.44,661.58 327.84,654.48 335.24,661.58 327.84,668.68" fill="#000"/>
<polygon points="327.7,661.58 335.1,654.48 342.5,661.58 335.1,668.68" fill="#000"/>
<polygon points="334.96,662.66 342.36,655.56 349.76,662.66 342.36,669.76" fill="#000"/>
<polygon points="342.22,658.34 349.62,651.24 357.02,658.34 349.62,665.44" fill="#000"/>
<polygon points="349.48,657.8 356.88,650.7 364.28,657.8 356.88,664.9" fill="#000"/>
<polygon points="356.74,648.62 364.14,641.52 371.54,648.62 364.14,655.72" fill="#000"/>
<polygon points="364,634.58 371.4,627.48 378.8,634.58 371.4,641.68" fill="#000"/>
<polygon points="371.26,634.58 378.66,627.48 386.06,634.58 378.66,641.68" fill="#000"/>
<polygon points="378.52,634.58 385.92,627.48 393.32,634.58 385.92,641.68" fill="#000"/>
<polygon points="385.78,637.82 393.18,630.72 400.58,637.82 393.18,644.92" fill="#000"/>
<polygon points="393.04,643.22 400.44,636.12 407.84,643.22 400.44,650.32" fill="#000"/>
<polygon points="400.3,647.54 407.7,640.44 415.1,647.54 407.7,654.64" fill="#000"/>
<polygon points="407.56,644.3 414.96,637.2 422.36,644.3 414.96,651.4" fill="#000"/>
<polygon points="414.82,644.3 422.22,637.2 429.62,644.3 422.22,651.4" fill="#000"/>
<polygon points="422.08,651.32 429.48,644.22 436.88,651.32 429.48,658.42" fill="#000"/>
<polygon points="429.34,654.56 436.74,647.46 444.14,654.56 436.74,661.66" fill="#000"/>
<polygon points="436.6,655.64 444,648.54 451.4,655.64 444,662.74" fill="#000"/>
<polygon points="443.86,656.72 451.26,649.62 458.66,656.72 451.26,663.82" fill="#000"/>
<polygon points="451.12,656.72 458.52,649.62 465.92,656.72 458.52,663.82" fill="#000"/>
<polygon points="458.38,656.72 465.78,649.62 473.18,656.72 465.78,663.82" fill="#000"/>
<polygon points="465.64,656.18 473.04,649.08 480.44,656.18 473.04,663.28" fill="#000"/>
<polygon points="472.9,646.46 480.3,639.36 487.7,646.46 480.3,653.56" fill="#000"/>
<polygon points="480.16,650.24 487.56,643.14 494.96,650.24 487.56,657.34" fill="#000"/>
<polygon points="487.42,643.22 494.82,636.12 502.22,643.22 494.82,650.32" fill="#000"/>
<polygon points="494.68,645.92 502.08,638.82 509.48,645.92 502.08,653.02" fill="#000"/>
<polygon points="501.94,645.92 509.34,638.82 516.74,645.92 509.34,653.02" fill="#000"/>
<rect x="75.1" y="870" width="77.14" height="12.4" fill="#fff" stroke="#000" stroke-width="1.3"/>
<rect x="148.1" y="844.54" width="11" height="11" fill="#fff" stroke="#000" stroke-width="2"/>
<rect x="155.36" y="836.98" width="11" height="11" fill="#fff" stroke="#000" stroke-width="2"/>
<rect x="162.62" y="810.52" width="11" height="11" fill="#fff" stroke="#000" stroke-width="2"/>
<rect x="169.88" y="745.72" width="11" height="11" fill="#fff" stroke="#000" stroke-width="2"/>
<rect x="177.14" y="713.32" width="11" height="11" fill="#fff" stroke="#000" stroke-width="2"/>
<rect x="184.4" y="683.08" width="11" height="11" fill="#fff" stroke="#000" stroke-width="2"/>
<rect x="191.66" y="664.72" width="11" height="11" fill="#fff" stroke="#000" stroke-width="2"/>
<rect x="198.92" y="656.08" width="11" height="11" fill="#fff" stroke="#000" stroke-width="2"/>
<rect x="206.18" y="649.6" width="11" height="11" fill="#fff" stroke="#000" stroke-width="2"/>
<rect x="213.44" y="637.18" width="11" height="11" fill="#fff" stroke="#000" stroke-width="2"/>
<rect x="220.7" y="650.68" width="11" height="11" fill="#fff" stroke="#000" stroke-width="2"/>
<rect x="227.96" y="666.88" width="11" height="11" fill="#fff" stroke="#000" stroke-width="2"/>
<rect x="235.22" y="668.5" width="11" height="11" fill="#fff" stroke="#000" stroke-width="2"/>
<rect x="242.48" y="674.44" width="11" height="11" fill="#fff" stroke="#000" stroke-width="2"/>
<rect x="249.74" y="679.84" width="11" height="11" fill="#fff" stroke="#000" stroke-width="2"/>
<rect x="257" y="680.38" width="11" height="11" fill="#fff" stroke="#000" stroke-width="2"/>
<rect x="264.26" y="686.32" width="11" height="11" fill="#fff" stroke="#000" stroke-width="2"/>
<rect x="271.52" y="671.74" width="11" height="11" fill="#fff" stroke="#000" stroke-width="2"/>
<rect x="278.78" y="670.12" width="11" height="11" fill="#fff" stroke="#000" stroke-width="2"/>
<rect x="286.04" y="670.12" width="11" height="11" fill="#fff" stroke="#000" stroke-width="2"/>
<rect x="293.3" y="659.32" width="11" height="11" fill="#fff" stroke="#000" stroke-width="2"/>
<rect x="300.56" y="642.04" width="11" height="11" fill="#fff" stroke="#000" stroke-width="2"/>
<rect x="307.82" y="655.54" width="11" height="11" fill="#fff" stroke="#000" stroke-width="2"/>
<rect x="315.08" y="659.32" width="11" height="11" fill="#fff" stroke="#000" stroke-width="2"/>
<rect x="322.34" y="656.62" width="11" height="11" fill="#fff" stroke="#000" stroke-width="2"/>
<rect x="329.6" y="656.62" width="11" height="11" fill="#fff" stroke="#000" stroke-width="2"/>
<rect x="336.86" y="658.78" width="11" height="11" fill="#fff" stroke="#000" stroke-width="2"/>
<rect x="344.12" y="663.1" width="11" height="11" fill="#fff" stroke="#000" stroke-width="2"/>
<rect x="351.38" y="662.02" width="11" height="11" fill="#fff" stroke="#000" stroke-width="2"/>
<rect x="358.64" y="670.12" width="11" height="11" fill="#fff" stroke="#000" stroke-width="2"/>
<rect x="365.9" y="670.12" width="11" height="11" fill="#fff" stroke="#000" stroke-width="2"/>
<rect x="373.16" y="670.12" width="11" height="11" fill="#fff" stroke="#000" stroke-width="2"/>
<rect x="380.42" y="670.12" width="11" height="11" fill="#fff" stroke="#000" stroke-width="2"/>
<rect x="387.68" y="662.56" width="11" height="11" fill="#fff" stroke="#000" stroke-width="2"/>
<rect x="394.94" y="666.34" width="11" height="11" fill="#fff" stroke="#000" stroke-width="2"/>
<rect x="402.2" y="664.72" width="11" height="11" fill="#fff" stroke="#000" stroke-width="2"/>
<rect x="409.46" y="660.4" width="11" height="11" fill="#fff" stroke="#000" stroke-width="2"/>
<rect x="416.72" y="656.08" width="11" height="11" fill="#fff" stroke="#000" stroke-width="2"/>
<rect x="423.98" y="659.86" width="11" height="11" fill="#fff" stroke="#000" stroke-width="2"/>
<rect x="431.24" y="665.26" width="11" height="11" fill="#fff" stroke="#000" stroke-width="2"/>
<rect x="438.5" y="665.26" width="11" height="11" fill="#fff" stroke="#000" stroke-width="2"/>
<rect x="445.76" y="665.26" width="11" height="11" fill="#fff" stroke="#000" stroke-width="2"/>
<rect x="453.02" y="665.26" width="11" height="11" fill="#fff" stroke="#000" stroke-width="2"/>
<rect x="460.28" y="665.26" width="11" height="11" fill="#fff" stroke="#000" stroke-width="2"/>
<rect x="467.54" y="665.26" width="11" height="11" fill="#fff" stroke="#000" stroke-width="2"/>
<rect x="474.8" y="663.1" width="11" height="11" fill="#fff" stroke="#000" stroke-width="2"/>
<rect x="482.06" y="663.1" width="11" height="11" fill="#fff" stroke="#000" stroke-width="2"/>
<rect x="489.32" y="663.1" width="11" height="11" fill="#fff" stroke="#000" stroke-width="2"/>
<rect x="496.58" y="649.6" width="11" height="11" fill="#fff" stroke="#000" stroke-width="2"/>
<rect x="503.84" y="649.6" width="11" height="11" fill="#fff" stroke="#000" stroke-width="2"/>
<polygon points="73.6,883.3 88.4,883.3 81,869.3" fill="#000"/>
<polygon points="80.86,883.3 95.66,883.3 88.26,869.3" fill="#000"/>
<polygon points="88.12,883.3 102.92,883.3 95.52,869.3" fill="#000"/>
<polygon points="95.38,883.3 110.18,883.3 102.78,869.3" fill="#000"/>
<polygon points="102.64,883.3 117.44,883.3 110.04,869.3" fill="#000"/>
<polygon points="109.9,883.3 124.7,883.3 117.3,869.3" fill="#000"/>
<polygon points="117.16,883.3 131.96,883.3 124.56,869.3" fill="#000"/>
<polygon points="124.42,883.3 139.22,883.3 131.82,869.3" fill="#000"/>
<polygon points="131.68,883.3 146.48,883.3 139.08,869.3" fill="#000"/>
<polygon points="138.94,883.3 153.74,883.3 146.34,869.3" fill="#000"/>
<polygon points="146.2,875.2 161,875.2 153.6,861.2" fill="#000"/>
<polygon points="153.46,867.1 168.26,867.1 160.86,853.1" fill="#000"/>
<polygon points="160.72,854.68 175.52,854.68 168.12,840.68" fill="#000"/>
<polygon points="167.98,831.46 182.78,831.46 175.38,817.46" fill="#000"/>
<polygon points="175.24,805.54 190.04,805.54 182.64,791.54" fill="#000"/>
<polygon points="182.5,783.94 197.3,783.94 189.9,769.94" fill="#000"/>
<polygon points="189.76,736.42 204.56,736.42 197.16,722.42" fill="#000"/>
<polygon points="197.02,715.9 211.82,715.9 204.42,701.9" fill="#000"/>
<polygon points="204.28,698.08 219.08,698.08 211.68,684.08" fill="#000"/>
<polygon points="211.54,697 226.34,697 218.94,683" fill="#000"/>
<polygon points="218.8,698.08 233.6,698.08 226.2,684.08" fill="#000"/>
<polygon points="226.06,705.64 240.86,705.64 233.46,691.64" fill="#000"/>
<polygon points="233.32,724.54 248.12,724.54 240.72,710.54" fill="#000"/>
<polygon points="240.58,737.5 255.38,737.5 247.98,723.5" fill="#000"/>
<polygon points="247.84,758.02 262.64,758.02 255.24,744.02" fill="#000"/>
<polygon points="255.1,764.5 269.9,764.5 262.5,750.5" fill="#000"/>
<polygon points="262.36,764.5 277.16,764.5 269.76,750.5" fill="#000"/>
<polygon points="269.62,760.18 284.42,760.18 277.02,746.18" fill="#000"/>
<polygon points="276.88,756.4 291.68,756.4 284.28,742.4" fill="#000"/>
<polygon points="284.14,754.78 298.94,754.78 291.54,740.78" fill="#000"/>
<polygon points="291.4,757.48 306.2,757.48 298.8,743.48" fill="#000"/>
<polygon points="298.66,766.66 313.46,766.66 306.06,752.66" fill="#000"/>
<polygon points="305.92,775.3 320.72,775.3 313.32,761.3" fill="#000"/>
<polygon points="313.18,795.28 327.98,795.28 320.58,781.28" fill="#000"/>
<polygon points="320.44,795.28 335.24,795.28 327.84,781.28" fill="#000"/>
<polygon points="327.7,795.28 342.5,795.28 335.1,781.28" fill="#000"/>
<polygon points="334.96,795.28 349.76,795.28 342.36,781.28" fill="#000"/>
<polygon points="342.22,795.28 357.02,795.28 349.62,781.28" fill="#000"/>
<polygon points="349.48,794.2 364.28,794.2 356.88,780.2" fill="#000"/>
<polygon points="356.74,792.04 371.54,792.04 364.14,778.04" fill="#000"/>
<polygon points="364,788.26 378.8,788.26 371.4,774.26" fill="#000"/>
<polygon points="371.26,788.26 386.06,788.26 378.66,774.26" fill="#000"/>
<polygon points="378.52,788.26 393.32,788.26 385.92,774.26" fill="#000"/>
<polygon points="385.78,789.34 400.58,789.34 393.18,775.34" fill="#000"/>
<polygon points="393.04,789.34 407.84,789.34 400.44,775.34" fill="#000"/>
<polygon points="400.3,789.34 415.1,789.34 407.7,775.34" fill="#000"/>
<polygon points="407.56,799.06 422.36,799.06 414.96,785.06" fill="#000"/>
<polygon points="414.82,808.24 429.62,808.24 422.22,794.24" fill="#000"/>
<polygon points="422.08,795.28 436.88,795.28 429.48,781.28" fill="#000"/>
<polygon points="429.34,788.26 444.14,788.26 436.74,774.26" fill="#000"/>
<polygon points="436.6,788.26 451.4,788.26 444,774.26" fill="#000"/>
<polygon points="443.86,788.26 458.66,788.26 451.26,774.26" fill="#000"/>
<polygon points="451.12,786.64 465.92,786.64 458.52,772.64" fill="#000"/>
<polygon points="458.38,786.64 473.18,786.64 465.78,772.64" fill="#000"/>
<polygon points="465.64,788.26 480.44,788.26 473.04,774.26" fill="#000"/>
<polygon points="472.9,790.42 487.7,790.42 480.3,776.42" fill="#000"/>
<polygon points="480.16,789.34 494.96,789.34 487.56,775.34" fill="#000"/>
<polygon points="487.42,788.26 502.22,788.26 494.82,774.26" fill="#000"/>
<polygon points="494.68,795.28 509.48,795.28 502.08,781.28" fill="#000"/>
<polygon points="501.94,790.42 516.74,790.42 509.34,776.42" fill="#000"/>
<line x1="218.7" y1="817" x2="262.5" y2="817" stroke="#666" stroke-width="1" />
<polygon points="234.3,817 240.3,811.4 246.3,817 240.3,822.6" fill="#000"/>
<line x1="218.7" y1="838.8" x2="262.5" y2="838.8" stroke="#666" stroke-width="1" />
<rect x="236.3" y="834.8" width="8" height="8" fill="#fff" stroke="#000" stroke-width="1.5"/>
<line x1="218.7" y1="860" x2="262.5" y2="860" stroke="#666" stroke-width="1" />
<polygon points="234.5,865 246.1,865 240.3,854" fill="#000"/>
<text x="0" y="0" font-family='"Liberation Serif", "Times New Roman", Times, serif' font-size="16.5" font-weight="normal" text-anchor="start" textLength="95.09" lengthAdjust="spacing" transform="translate(269.2 822) scale(1.1 1)">No treatment</text>
<text x="0" y="0" font-family='"Liberation Serif", "Times New Roman", Times, serif' font-size="16.5" font-weight="normal" text-anchor="start" textLength="83.36" lengthAdjust="spacing" transform="translate(269.2 843.8) scale(1.1 1)">WT T-cells</text>
<text x="0" y="0" font-family='"Liberation Serif", "Times New Roman", Times, serif' font-size="16.5" font-weight="normal" text-anchor="start" textLength="126.73" lengthAdjust="spacing" transform="translate(269.2 864.6) scale(1.1 1)">MyD88-/- T-cells</text>
</g>
</svg>
</body></html>
